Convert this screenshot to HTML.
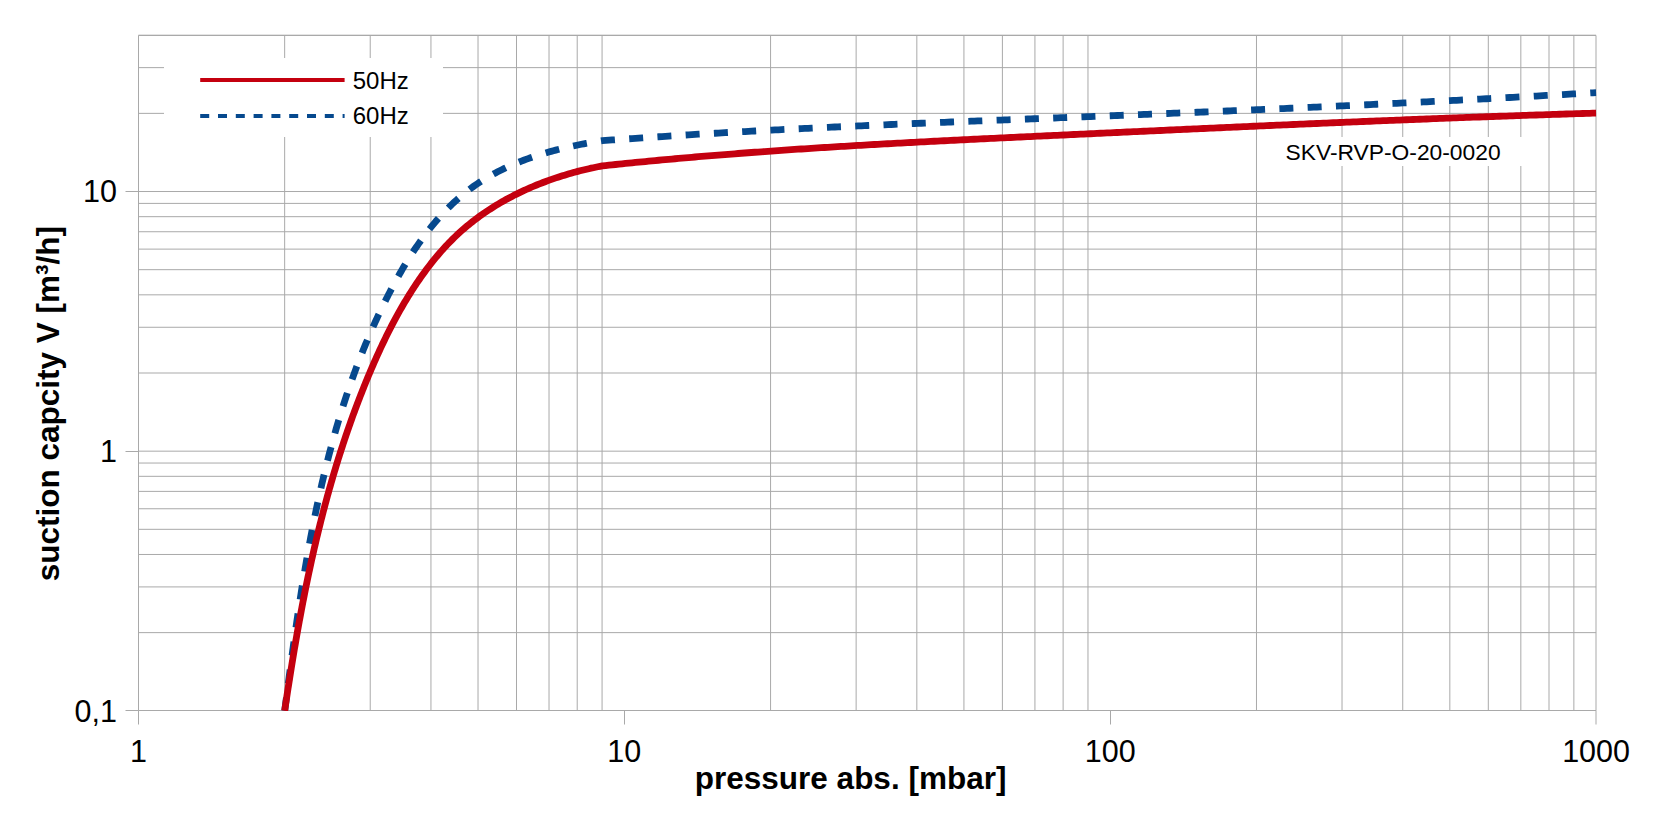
<!DOCTYPE html><html><head><meta charset="utf-8"><style>html,body{margin:0;padding:0;background:#fff;}svg{display:block}text{font-family:"Liberation Sans",sans-serif;fill:#000}</style></head><body>
<svg width="1664" height="820" viewBox="0 0 1664 820">
<rect x="0" y="0" width="1664" height="820" fill="#fff"/>
<path d="M138.4 632.64H1596.1 M138.4 586.92H1596.1 M138.4 554.48H1596.1 M138.4 529.32H1596.1 M138.4 508.76H1596.1 M138.4 491.38H1596.1 M138.4 476.32H1596.1 M138.4 463.04H1596.1 M138.4 451.16H1596.1 M138.4 373.0H1596.1 M138.4 327.28H1596.1 M138.4 294.84H1596.1 M138.4 269.68H1596.1 M138.4 249.12H1596.1 M138.4 231.74H1596.1 M138.4 216.68H1596.1 M138.4 203.4H1596.1 M138.4 191.52H1596.1 M138.4 113.36H1596.1 M138.4 67.64H1596.1 M138.4 35.2H1596.1 M284.67 710.5V35.5 M370.23 710.5V35.5 M430.94 710.5V35.5 M478.03 710.5V35.5 M516.5 710.5V35.5 M549.03 710.5V35.5 M577.21 710.5V35.5 M602.07 710.5V35.5 M770.57 710.5V35.5 M856.13 710.5V35.5 M916.84 710.5V35.5 M963.93 710.5V35.5 M1002.4 710.5V35.5 M1034.93 710.5V35.5 M1063.11 710.5V35.5 M1087.97 710.5V35.5 M1256.47 710.5V35.5 M1342.03 710.5V35.5 M1402.74 710.5V35.5 M1449.83 710.5V35.5 M1488.3 710.5V35.5 M1520.83 710.5V35.5 M1549.01 710.5V35.5 M1573.87 710.5V35.5" stroke="#a9a9a9" stroke-width="1" fill="none"/>
<path d="M138.5 35.5H1596.0V710.5H138.5Z M138.5 710.5V724.5 M624.5 710.5V724.5 M1110.5 710.5V724.5 M1596.0 710.5V724.5 M125.5 710.5H138.5 M125.5 451.5H138.5 M125.5 191.5H138.5" stroke="#a9a9a9" stroke-width="1" fill="none"/>
<rect x="164" y="58" width="279" height="79" fill="#fff"/>
<rect x="1266" y="137" width="256" height="29" fill="#fff"/>
<clipPath id="pc"><rect x="138" y="35" width="1458.5" height="676"/></clipPath>
<g clip-path="url(#pc)">
<path d="M284.70 710.80 L285.00 708.47 L285.30 706.14 L285.61 703.81 L285.91 701.47 L286.22 699.14 L286.52 696.80 L286.83 694.47 L287.13 692.13 L287.44 689.80 L287.75 687.46 L288.05 685.12 L288.36 682.78 L288.67 680.44 L288.98 678.10 L289.29 675.76 L289.60 673.42 L289.91 671.08 L290.23 668.74 L290.54 666.40 L290.86 664.06 L291.17 661.71 L291.49 659.37 L291.81 657.02 L292.13 654.68 L292.45 652.34 L292.77 649.99 L293.10 647.65 L293.42 645.30 L293.75 642.95 L294.08 640.61 L294.41 638.26 L294.74 635.92 L295.07 633.57 L295.41 631.22 L295.74 628.88 L296.08 626.53 L296.42 624.18 L296.76 621.84 L297.10 619.49 L297.45 617.14 L297.80 614.80 L298.15 612.45 L298.50 610.10 L298.85 607.76 L299.21 605.41 L299.57 603.06 L299.93 600.72 L300.29 598.37 L300.66 596.02 L301.02 593.68 L301.39 591.33 L301.77 588.99 L302.14 586.64 L302.52 584.30 L302.90 581.95 L303.28 579.61 L303.67 577.27 L304.06 574.92 L304.45 572.58 L304.84 570.24 L305.24 567.90 L305.64 565.55 L306.04 563.21 L306.45 560.87 L306.86 558.53 L307.27 556.19 L307.68 553.86 L308.10 551.52 L308.52 549.18 L308.95 546.84 L309.38 544.51 L309.81 542.17 L310.25 539.84 L310.69 537.50 L311.13 535.17 L311.57 532.84 L312.02 530.51 L312.48 528.17 L312.93 525.84 L313.39 523.52 L313.86 521.19 L314.33 518.86 L314.80 516.53 L315.28 514.21 L315.76 511.88 L316.24 509.56 L316.73 507.24 L317.22 504.92 L317.72 502.60 L318.22 500.28 L318.73 497.96 L319.24 495.64 L319.75 493.33 L320.27 491.01 L320.79 488.70 L321.32 486.39 L321.85 484.08 L322.39 481.77 L322.93 479.46 L323.48 477.15 L324.03 474.85 L324.58 472.54 L325.14 470.24 L325.71 467.94 L326.28 465.64 L326.85 463.34 L327.43 461.04 L328.02 458.75 L328.61 456.45 L329.20 454.16 L329.80 451.87 L330.41 449.58 L331.02 447.29 L331.64 445.01 L332.26 442.72 L332.89 440.44 L333.52 438.16 L334.16 435.88 L334.80 433.60 L335.45 431.32 L336.10 429.05 L336.76 426.78 L337.43 424.51 L338.10 422.24 L338.78 419.97 L339.46 417.71 L340.15 415.44 L340.85 413.18 L341.55 410.92 L342.26 408.67 L342.97 406.41 L343.69 404.16 L344.42 401.91 L345.15 399.66 L345.89 397.41 L346.63 395.16 L347.39 392.92 L348.14 390.68 L348.91 388.44 L349.68 386.21 L350.46 383.97 L351.24 381.74 L352.03 379.51 L352.83 377.28 L353.63 375.06 L354.44 372.83 L355.26 370.61 L356.08 368.40 L356.91 366.18 L357.75 363.97 L358.60 361.76 L359.45 359.55 L360.31 357.34 L361.18 355.14 L362.05 352.94 L362.93 350.74 L363.82 348.54 L364.72 346.35 L365.62 344.16 L366.53 341.97 L367.45 339.79 L368.37 337.61 L369.30 335.43 L370.25 333.25 L371.19 331.07 L372.15 328.90 L373.11 326.73 L374.08 324.57 L375.06 322.40 L376.05 320.24 L377.05 318.09 L378.05 315.93 L379.06 313.78 L380.08 311.63 L381.11 309.49 L382.14 307.34 L383.18 305.20 L384.24 303.07 L385.30 300.93 L386.37 298.80 L387.44 296.67 L388.53 294.55 L389.62 292.43 L390.72 290.31 L391.83 288.20 L392.95 286.09 L394.08 283.98 L395.22 281.88 L396.37 279.79 L397.53 277.70 L398.70 275.62 L399.87 273.54 L401.06 271.47 L402.26 269.40 L403.47 267.35 L404.69 265.30 L405.92 263.26 L407.16 261.22 L408.42 259.20 L409.68 257.18 L410.96 255.18 L412.25 253.18 L413.55 251.20 L414.86 249.22 L416.19 247.25 L417.52 245.30 L418.87 243.36 L420.24 241.42 L421.61 239.50 L423.00 237.60 L424.40 235.70 L425.82 233.82 L427.25 231.95 L428.69 230.09 L430.15 228.25 L431.62 226.43 L433.11 224.61 L434.61 222.82 L436.13 221.03 L437.66 219.27 L439.21 217.52 L440.77 215.78 L442.35 214.06 L443.94 212.36 L445.55 210.68 L447.17 209.01 L448.81 207.37 L450.47 205.74 L452.14 204.13 L453.83 202.53 L455.54 200.96 L457.27 199.41 L459.01 197.88 L460.77 196.36 L462.54 194.87 L464.34 193.40 L466.15 191.95 L467.98 190.52 L469.83 189.12 L471.70 187.73 L473.59 186.37 L475.49 185.03 L477.42 183.72 L479.36 182.43 L481.32 181.16 L483.30 179.91 L485.29 178.69 L487.30 177.49 L489.33 176.31 L491.38 175.15 L493.44 174.02 L495.51 172.90 L497.60 171.81 L499.71 170.74 L501.83 169.68 L503.96 168.65 L506.10 167.64 L508.26 166.65 L510.43 165.68 L512.61 164.73 L514.80 163.80 L517.01 162.88 L519.22 161.99 L521.45 161.12 L523.68 160.26 L525.92 159.42 L528.17 158.60 L530.43 157.80 L532.70 157.02 L534.98 156.25 L537.26 155.50 L539.55 154.77 L541.84 154.06 L544.14 153.36 L546.45 152.68 L548.76 152.01 L551.08 151.36 L553.40 150.73 L555.72 150.11 L558.05 149.51 L560.38 148.92 L562.71 148.35 L565.04 147.79 L567.38 147.25 L569.71 146.72 L572.05 146.20 L574.39 145.70 L576.72 145.22 L579.06 144.74 L581.40 144.28 L583.73 143.83 L586.06 143.40 L588.39 142.98 L590.72 142.57 L593.04 142.17 L595.37 141.79 L597.68 141.41 L599.99 141.05 L602.30 140.70 L605.62 140.44 L608.93 140.20 L612.25 139.96 L615.57 139.72 L618.88 139.48 L622.20 139.24 L625.52 139.00 L628.83 138.77 L632.15 138.54 L635.47 138.31 L638.79 138.08 L642.10 137.85 L645.42 137.62 L648.74 137.40 L652.06 137.18 L655.37 136.96 L658.69 136.74 L662.01 136.52 L665.33 136.30 L668.65 136.09 L671.97 135.87 L675.29 135.66 L678.61 135.45 L681.92 135.24 L685.24 135.04 L688.56 134.83 L691.88 134.63 L695.20 134.42 L698.52 134.22 L701.84 134.02 L705.16 133.82 L708.48 133.63 L711.80 133.43 L715.12 133.24 L718.44 133.04 L721.76 132.85 L725.08 132.66 L728.41 132.47 L731.73 132.28 L735.05 132.10 L738.37 131.91 L741.69 131.73 L745.01 131.54 L748.33 131.36 L751.65 131.18 L754.97 131.00 L758.30 130.82 L761.62 130.65 L764.94 130.47 L768.26 130.29 L771.58 130.12 L774.91 129.95 L778.23 129.78 L781.55 129.61 L784.87 129.44 L788.19 129.27 L791.52 129.10 L794.84 128.93 L798.16 128.77 L801.49 128.61 L804.81 128.44 L808.13 128.28 L811.45 128.12 L814.78 127.96 L818.10 127.80 L821.42 127.64 L824.75 127.48 L828.07 127.33 L831.39 127.17 L834.72 127.01 L838.04 126.86 L841.36 126.71 L844.69 126.55 L848.01 126.40 L851.34 126.25 L854.66 126.10 L857.98 125.95 L861.31 125.80 L864.63 125.65 L867.96 125.51 L871.28 125.36 L874.60 125.21 L877.93 125.07 L881.25 124.93 L884.58 124.78 L887.90 124.64 L891.23 124.50 L894.55 124.35 L897.88 124.21 L901.20 124.07 L904.53 123.93 L907.85 123.79 L911.18 123.65 L914.50 123.51 L917.82 123.38 L921.15 123.24 L924.48 123.10 L927.80 122.96 L931.13 122.83 L934.45 122.69 L937.78 122.56 L941.10 122.42 L944.43 122.29 L947.75 122.15 L951.08 122.02 L954.40 121.89 L957.73 121.75 L961.05 121.62 L964.38 121.49 L967.70 121.35 L971.03 121.22 L974.36 121.09 L977.68 120.96 L981.01 120.83 L984.33 120.70 L987.66 120.57 L990.98 120.44 L994.31 120.31 L997.64 120.18 L1000.96 120.05 L1004.29 119.92 L1007.61 119.79 L1010.94 119.66 L1014.27 119.53 L1017.59 119.40 L1020.92 119.27 L1024.24 119.14 L1027.57 119.01 L1030.89 118.88 L1034.22 118.76 L1037.55 118.63 L1040.87 118.50 L1044.20 118.37 L1047.52 118.24 L1050.85 118.11 L1054.18 117.98 L1057.50 117.85 L1060.83 117.72 L1064.16 117.60 L1067.48 117.47 L1070.81 117.34 L1074.13 117.21 L1077.46 117.08 L1080.79 116.95 L1084.11 116.82 L1087.44 116.69 L1090.76 116.56 L1094.09 116.43 L1097.42 116.30 L1100.74 116.16 L1104.07 116.03 L1107.39 115.90 L1110.72 115.77 L1114.05 115.64 L1117.37 115.51 L1120.70 115.37 L1124.02 115.24 L1127.35 115.11 L1130.68 114.97 L1134.00 114.84 L1137.33 114.71 L1140.65 114.57 L1143.98 114.44 L1147.31 114.30 L1150.63 114.17 L1153.96 114.04 L1157.28 113.90 L1160.61 113.76 L1163.93 113.63 L1167.26 113.49 L1170.59 113.36 L1173.91 113.22 L1177.24 113.08 L1180.56 112.95 L1183.89 112.81 L1187.22 112.67 L1190.54 112.53 L1193.87 112.40 L1197.19 112.26 L1200.52 112.12 L1203.84 111.98 L1207.17 111.84 L1210.50 111.70 L1213.82 111.56 L1217.15 111.42 L1220.47 111.28 L1223.80 111.14 L1227.12 111.00 L1230.45 110.85 L1233.77 110.71 L1237.10 110.57 L1240.43 110.43 L1243.75 110.28 L1247.08 110.14 L1250.40 110.00 L1253.73 109.85 L1257.05 109.71 L1260.38 109.56 L1263.70 109.42 L1267.03 109.27 L1270.35 109.13 L1273.68 108.98 L1277.00 108.83 L1280.33 108.69 L1283.66 108.54 L1286.98 108.39 L1290.31 108.24 L1293.63 108.10 L1296.96 107.95 L1300.28 107.80 L1303.61 107.65 L1306.93 107.50 L1310.26 107.35 L1313.58 107.20 L1316.91 107.04 L1320.23 106.89 L1323.56 106.74 L1326.88 106.59 L1330.21 106.44 L1333.53 106.28 L1336.86 106.13 L1340.18 105.97 L1343.51 105.82 L1346.83 105.66 L1350.16 105.51 L1353.48 105.35 L1356.81 105.20 L1360.13 105.04 L1363.46 104.88 L1366.78 104.73 L1370.10 104.57 L1373.43 104.41 L1376.75 104.25 L1380.08 104.09 L1383.40 103.93 L1386.73 103.77 L1390.05 103.61 L1393.38 103.45 L1396.70 103.29 L1400.02 103.12 L1403.35 102.96 L1406.67 102.80 L1410.00 102.63 L1413.32 102.47 L1416.65 102.30 L1419.97 102.14 L1423.29 101.97 L1426.62 101.81 L1429.94 101.64 L1433.27 101.47 L1436.59 101.31 L1439.91 101.14 L1443.24 100.97 L1446.56 100.80 L1449.89 100.63 L1453.21 100.46 L1456.53 100.29 L1459.86 100.12 L1463.18 99.94 L1466.51 99.77 L1469.83 99.60 L1473.15 99.43 L1476.48 99.25 L1479.80 99.08 L1483.12 98.90 L1486.45 98.73 L1489.77 98.55 L1493.09 98.37 L1496.42 98.20 L1499.74 98.02 L1503.06 97.84 L1506.39 97.66 L1509.71 97.48 L1513.03 97.30 L1516.36 97.12 L1519.68 96.94 L1523.00 96.76 L1526.33 96.57 L1529.65 96.39 L1532.97 96.21 L1536.29 96.02 L1539.62 95.84 L1542.94 95.65 L1546.26 95.46 L1549.59 95.28 L1552.91 95.09 L1556.23 94.90 L1559.55 94.71 L1562.88 94.52 L1566.20 94.33 L1569.52 94.14 L1572.84 93.95 L1576.17 93.76 L1579.49 93.57 L1582.81 93.38 L1586.13 93.18 L1589.46 92.99 L1592.78 92.79 L1596.10 92.60" stroke="#06498e" stroke-width="6.8" fill="none" stroke-dasharray="14 14.3" stroke-dashoffset="0.81" stroke-linejoin="round"/>
<path d="M284.70 710.80 L285.03 708.55 L285.36 706.31 L285.70 704.06 L286.03 701.82 L286.37 699.58 L286.71 697.33 L287.05 695.09 L287.39 692.84 L287.73 690.60 L288.07 688.36 L288.42 686.12 L288.77 683.87 L289.12 681.63 L289.47 679.39 L289.82 677.15 L290.18 674.91 L290.54 672.67 L290.89 670.43 L291.25 668.19 L291.62 665.95 L291.98 663.71 L292.35 661.47 L292.72 659.23 L293.09 656.99 L293.46 654.76 L293.83 652.52 L294.21 650.28 L294.59 648.05 L294.97 645.81 L295.36 643.58 L295.74 641.34 L296.13 639.11 L296.52 636.88 L296.91 634.64 L297.31 632.41 L297.70 630.18 L298.10 627.95 L298.51 625.72 L298.91 623.49 L299.32 621.26 L299.73 619.03 L300.14 616.80 L300.56 614.58 L300.97 612.35 L301.39 610.12 L301.82 607.90 L302.24 605.67 L302.67 603.45 L303.10 601.22 L303.53 599.00 L303.97 596.78 L304.41 594.56 L304.85 592.34 L305.30 590.12 L305.75 587.90 L306.20 585.68 L306.65 583.46 L307.11 581.24 L307.57 579.03 L308.03 576.81 L308.50 574.60 L308.97 572.38 L309.44 570.17 L309.92 567.96 L310.40 565.75 L310.88 563.54 L311.36 561.33 L311.85 559.12 L312.35 556.91 L312.84 554.70 L313.34 552.50 L313.84 550.29 L314.35 548.09 L314.86 545.89 L315.37 543.68 L315.89 541.48 L316.41 539.28 L316.93 537.08 L317.46 534.88 L317.99 532.68 L318.53 530.49 L319.06 528.29 L319.61 526.10 L320.15 523.90 L320.70 521.71 L321.25 519.52 L321.81 517.33 L322.37 515.14 L322.94 512.95 L323.51 510.76 L324.08 508.58 L324.66 506.39 L325.24 504.21 L325.82 502.03 L326.41 499.84 L327.01 497.66 L327.60 495.48 L328.21 493.30 L328.81 491.13 L329.42 488.95 L330.04 486.78 L330.66 484.60 L331.28 482.43 L331.91 480.26 L332.54 478.09 L333.17 475.92 L333.81 473.75 L334.46 471.59 L335.11 469.42 L335.76 467.26 L336.42 465.09 L337.08 462.93 L337.75 460.77 L338.42 458.61 L339.10 456.46 L339.78 454.30 L340.47 452.14 L341.16 449.99 L341.86 447.84 L342.56 445.69 L343.26 443.54 L343.97 441.39 L344.69 439.24 L345.41 437.10 L346.14 434.95 L346.87 432.81 L347.60 430.67 L348.34 428.53 L349.09 426.39 L349.84 424.26 L350.59 422.12 L351.35 419.99 L352.12 417.86 L352.89 415.72 L353.67 413.60 L354.45 411.47 L355.23 409.34 L356.03 407.22 L356.82 405.09 L357.63 402.97 L358.44 400.85 L359.25 398.73 L360.07 396.62 L360.89 394.50 L361.72 392.39 L362.56 390.28 L363.40 388.17 L364.25 386.06 L365.10 383.95 L365.96 381.84 L366.82 379.74 L367.69 377.64 L368.57 375.54 L369.45 373.44 L370.34 371.34 L371.23 369.25 L372.13 367.15 L373.04 365.06 L373.95 362.97 L374.86 360.88 L375.79 358.80 L376.72 356.72 L377.66 354.64 L378.60 352.56 L379.55 350.49 L380.51 348.42 L381.48 346.36 L382.45 344.29 L383.43 342.24 L384.42 340.18 L385.42 338.13 L386.42 336.08 L387.43 334.04 L388.45 332.01 L389.48 329.97 L390.51 327.94 L391.56 325.92 L392.61 323.90 L393.67 321.89 L394.74 319.88 L395.82 317.88 L396.91 315.88 L398.01 313.89 L399.11 311.91 L400.23 309.93 L401.35 307.96 L402.49 305.99 L403.63 304.04 L404.78 302.08 L405.95 300.14 L407.12 298.20 L408.31 296.27 L409.50 294.35 L410.70 292.43 L411.92 290.52 L413.15 288.62 L414.38 286.73 L415.63 284.84 L416.89 282.97 L418.16 281.10 L419.44 279.24 L420.73 277.39 L422.03 275.54 L423.35 273.71 L424.68 271.89 L426.01 270.08 L427.36 268.27 L428.73 266.48 L430.10 264.70 L431.49 262.93 L432.89 261.17 L434.30 259.42 L435.73 257.69 L437.17 255.96 L438.62 254.25 L440.09 252.56 L441.56 250.87 L443.06 249.20 L444.56 247.54 L446.08 245.90 L447.62 244.27 L449.16 242.66 L450.73 241.06 L452.30 239.48 L453.89 237.91 L455.50 236.36 L457.12 234.82 L458.76 233.30 L460.41 231.80 L462.07 230.31 L463.75 228.85 L465.45 227.39 L467.16 225.96 L468.88 224.54 L470.62 223.14 L472.37 221.75 L474.13 220.38 L475.91 219.03 L477.70 217.69 L479.51 216.37 L481.33 215.07 L483.16 213.78 L485.00 212.51 L486.85 211.25 L488.72 210.01 L490.60 208.79 L492.49 207.58 L494.39 206.39 L496.30 205.22 L498.23 204.06 L500.16 202.92 L502.11 201.79 L504.07 200.68 L506.03 199.58 L508.01 198.50 L510.00 197.44 L512.00 196.39 L514.00 195.35 L516.02 194.34 L518.05 193.34 L520.08 192.35 L522.13 191.38 L524.18 190.42 L526.24 189.48 L528.31 188.56 L530.39 187.65 L532.47 186.75 L534.57 185.87 L536.67 185.01 L538.78 184.16 L540.89 183.32 L543.01 182.50 L545.14 181.70 L547.28 180.91 L549.42 180.14 L551.57 179.38 L553.73 178.63 L555.89 177.90 L558.05 177.19 L560.23 176.48 L562.40 175.80 L564.59 175.13 L566.77 174.47 L568.97 173.83 L571.16 173.20 L573.36 172.59 L575.57 171.99 L577.78 171.40 L579.99 170.83 L582.21 170.27 L584.43 169.73 L586.66 169.20 L588.88 168.69 L591.11 168.19 L593.35 167.70 L595.58 167.23 L597.82 166.78 L600.06 166.33 L602.30 165.90 L605.61 165.54 L608.91 165.19 L612.22 164.84 L615.53 164.50 L618.84 164.16 L622.15 163.82 L625.46 163.48 L628.77 163.15 L632.07 162.82 L635.38 162.49 L638.69 162.16 L642.01 161.84 L645.32 161.52 L648.63 161.20 L651.94 160.88 L655.25 160.57 L658.56 160.26 L661.87 159.95 L665.18 159.65 L668.50 159.34 L671.81 159.04 L675.12 158.75 L678.43 158.45 L681.75 158.16 L685.06 157.87 L688.38 157.58 L691.69 157.29 L695.00 157.01 L698.32 156.73 L701.63 156.45 L704.95 156.17 L708.26 155.89 L711.58 155.62 L714.89 155.35 L718.21 155.08 L721.52 154.81 L724.84 154.55 L728.16 154.29 L731.47 154.03 L734.79 153.77 L738.11 153.51 L741.42 153.26 L744.74 153.01 L748.06 152.76 L751.38 152.51 L754.70 152.26 L758.01 152.02 L761.33 151.78 L764.65 151.54 L767.97 151.30 L771.29 151.06 L774.61 150.83 L777.93 150.59 L781.25 150.36 L784.57 150.13 L787.89 149.90 L791.21 149.68 L794.53 149.45 L797.85 149.23 L801.17 149.01 L804.49 148.79 L807.81 148.57 L811.13 148.35 L814.45 148.14 L817.77 147.92 L821.09 147.71 L824.41 147.50 L827.74 147.29 L831.06 147.09 L834.38 146.88 L837.70 146.68 L841.02 146.47 L844.35 146.27 L847.67 146.07 L850.99 145.87 L854.31 145.67 L857.64 145.48 L860.96 145.28 L864.28 145.09 L867.61 144.89 L870.93 144.70 L874.25 144.51 L877.58 144.32 L880.90 144.14 L884.22 143.95 L887.55 143.76 L890.87 143.58 L894.20 143.39 L897.52 143.21 L900.84 143.03 L904.17 142.85 L907.49 142.67 L910.82 142.49 L914.14 142.31 L917.47 142.14 L920.79 141.96 L924.12 141.79 L927.44 141.61 L930.77 141.44 L934.09 141.27 L937.42 141.10 L940.74 140.92 L944.07 140.75 L947.39 140.59 L950.72 140.42 L954.05 140.25 L957.37 140.08 L960.70 139.92 L964.02 139.75 L967.35 139.58 L970.68 139.42 L974.00 139.26 L977.33 139.09 L980.65 138.93 L983.98 138.77 L987.31 138.61 L990.63 138.44 L993.96 138.28 L997.29 138.12 L1000.61 137.96 L1003.94 137.80 L1007.27 137.64 L1010.59 137.49 L1013.92 137.33 L1017.25 137.17 L1020.57 137.01 L1023.90 136.85 L1027.23 136.70 L1030.55 136.54 L1033.88 136.38 L1037.21 136.22 L1040.53 136.07 L1043.86 135.91 L1047.19 135.76 L1050.51 135.60 L1053.84 135.44 L1057.17 135.29 L1060.49 135.13 L1063.82 134.98 L1067.15 134.82 L1070.47 134.66 L1073.80 134.51 L1077.13 134.35 L1080.45 134.20 L1083.78 134.04 L1087.11 133.88 L1090.43 133.73 L1093.76 133.57 L1097.09 133.42 L1100.41 133.26 L1103.74 133.11 L1107.07 132.95 L1110.39 132.80 L1113.72 132.64 L1117.05 132.49 L1120.38 132.33 L1123.70 132.18 L1127.03 132.02 L1130.36 131.87 L1133.68 131.71 L1137.01 131.56 L1140.34 131.40 L1143.66 131.25 L1146.99 131.09 L1150.32 130.94 L1153.64 130.79 L1156.97 130.63 L1160.30 130.48 L1163.62 130.32 L1166.95 130.17 L1170.28 130.02 L1173.60 129.86 L1176.93 129.71 L1180.26 129.56 L1183.58 129.41 L1186.91 129.25 L1190.24 129.10 L1193.56 128.95 L1196.89 128.80 L1200.22 128.64 L1203.54 128.49 L1206.87 128.34 L1210.20 128.19 L1213.53 128.04 L1216.85 127.89 L1220.18 127.74 L1223.51 127.59 L1226.83 127.44 L1230.16 127.29 L1233.49 127.14 L1236.81 126.99 L1240.14 126.84 L1243.47 126.69 L1246.79 126.54 L1250.12 126.39 L1253.45 126.24 L1256.77 126.10 L1260.10 125.95 L1263.43 125.80 L1266.75 125.65 L1270.08 125.51 L1273.41 125.36 L1276.73 125.21 L1280.06 125.07 L1283.39 124.92 L1286.71 124.78 L1290.04 124.63 L1293.37 124.49 L1296.69 124.34 L1300.02 124.20 L1303.35 124.05 L1306.67 123.91 L1310.00 123.77 L1313.33 123.62 L1316.65 123.48 L1319.98 123.34 L1323.31 123.20 L1326.63 123.05 L1329.96 122.91 L1333.29 122.77 L1336.62 122.63 L1339.94 122.49 L1343.27 122.35 L1346.60 122.21 L1349.92 122.07 L1353.25 121.93 L1356.58 121.79 L1359.90 121.66 L1363.23 121.52 L1366.56 121.38 L1369.88 121.24 L1373.21 121.11 L1376.54 120.97 L1379.86 120.84 L1383.19 120.70 L1386.52 120.57 L1389.84 120.43 L1393.17 120.30 L1396.50 120.16 L1399.82 120.03 L1403.15 119.90 L1406.48 119.77 L1409.80 119.63 L1413.13 119.50 L1416.46 119.37 L1419.78 119.24 L1423.11 119.11 L1426.44 118.98 L1429.76 118.85 L1433.09 118.72 L1436.42 118.60 L1439.74 118.47 L1443.07 118.34 L1446.40 118.22 L1449.72 118.09 L1453.05 117.96 L1456.38 117.84 L1459.70 117.71 L1463.03 117.59 L1466.36 117.47 L1469.68 117.34 L1473.01 117.22 L1476.34 117.10 L1479.66 116.98 L1482.99 116.86 L1486.32 116.74 L1489.64 116.62 L1492.97 116.50 L1496.30 116.38 L1499.63 116.26 L1502.95 116.14 L1506.28 116.03 L1509.61 115.91 L1512.93 115.79 L1516.26 115.68 L1519.59 115.56 L1522.91 115.45 L1526.24 115.34 L1529.57 115.22 L1532.89 115.11 L1536.22 115.00 L1539.55 114.89 L1542.87 114.78 L1546.20 114.67 L1549.53 114.56 L1552.85 114.45 L1556.18 114.34 L1559.51 114.24 L1562.83 114.13 L1566.16 114.02 L1569.49 113.92 L1572.81 113.81 L1576.14 113.71 L1579.47 113.60 L1582.79 113.50 L1586.12 113.40 L1589.45 113.30 L1592.77 113.20 L1596.10 113.10" stroke="#c4000f" stroke-width="6.8" fill="none" stroke-linejoin="round"/>
</g>
<path d="M200.2 80H344.6" stroke="#c4000f" stroke-width="4.0"/>
<path d="M200.2 116H344.6" stroke="#06498e" stroke-width="4.0" stroke-dasharray="9.0 8.8"/>
<text x="352.7" y="88.5" font-size="24">50Hz</text>
<text x="352.7" y="124.2" font-size="24">60Hz</text>
<text x="1285.6" y="160" font-size="22.8">SKV-RVP-O-20-0020</text>
<text x="138.4" y="762" font-size="30.5" text-anchor="middle">1</text>
<text x="624.3" y="762" font-size="30.5" text-anchor="middle">10</text>
<text x="1110.2" y="762" font-size="30.5" text-anchor="middle">100</text>
<text x="1596.1" y="762" font-size="30.5" text-anchor="middle">1000</text>
<text x="117" y="202" font-size="30.5" text-anchor="end">10</text>
<text x="117" y="462" font-size="30.5" text-anchor="end">1</text>
<text x="117" y="722" font-size="30.5" text-anchor="end">0,1</text>
<text x="850.6" y="788.5" font-size="31.5" font-weight="bold" text-anchor="middle">pressure abs. [mbar]</text>
<text x="0" y="0" font-size="31.5" font-weight="bold" text-anchor="middle" transform="translate(59 403.6) rotate(-90)">suction capcity V [m³/h]</text>
</svg></body></html>
